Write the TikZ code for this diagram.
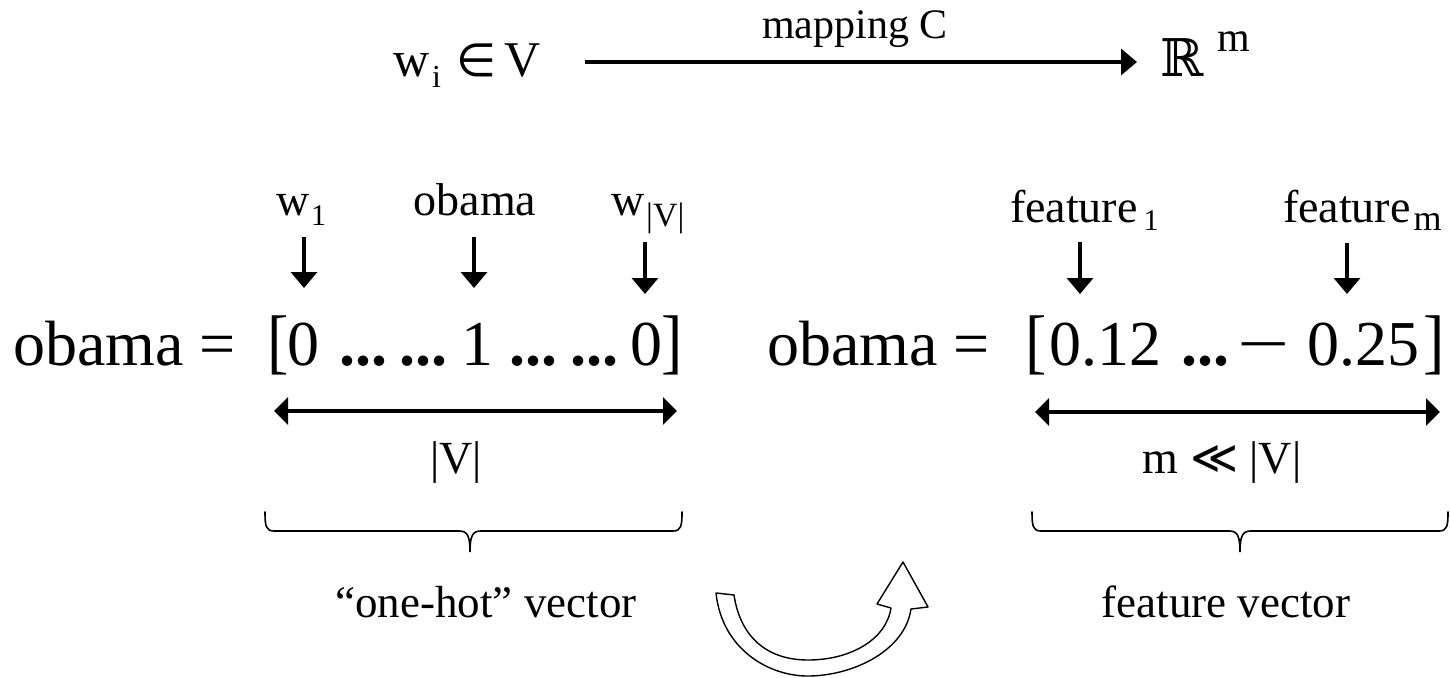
\documentclass[tikz,border=0pt]{standalone}
\usepackage{fontspec}
\setmainfont{Liberation Serif}
\newfontfamily\symfont{DejaVu Sans}
\newfontfamily\dsfont{DejaVu Serif}
\usetikzlibrary{arrows.meta}
\newcommand\fs[1]{\fontsize{#1}{#1}\selectfont}
\newcommand\mydots{\textbf{...}}
\begin{document}
\begin{tikzpicture}[x=1pt,y=-1pt,
  every node/.style={inner sep=0pt,outer sep=0pt,anchor=base},
  big/.style={font={\fs{64}}},
  lab/.style={font={\fs{46}}},
  captext/.style={font={\fs{45}}},
  arr/.style={line width=3.4pt,-{Triangle[length=16pt,width=26pt]}},
  darr/.style={line width=3.3pt,{Triangle[length=14pt,width=27pt]}-{Triangle[length=14pt,width=27pt]}},
  bracepath/.style={line width=1.6pt,line cap=round},
  blockarrow/.style={line width=1.4pt,fill=white,line join=round}]
\useasboundingbox (0,0) rectangle (1450,677);

% ---- top row ----
\node[font={\fs{50}},anchor=base west] (wi) at (393,77)
  {w\hspace{3pt}\raisebox{-11pt}{\fs{32}i}\hspace{15pt}{\symfont\fs{46}∈}\hspace{8pt}V};
\node[font={\fs{42}}] (map) at (855,38) {mapping C};
\node[anchor=base west] (Rm) at (1160,77)
  {{\dsfont\fs{52}ℝ}\hspace{14pt}\raisebox{25pt}{\fs{42}m}};
\coordinate (ta1) at (585,62);
\coordinate (ta2) at (1137,62);
\draw[arr] (ta1) -- (ta2);

% ---- labels above left vector ----
\node[lab,anchor=base west] (w1) at (276,215) {w\hspace{2pt}\raisebox{-10pt}{\fs{30}1}};
\node[lab] (ob) at (475,215) {obama};
\node[lab,anchor=base west] (wV) at (611,215) {w\hspace{2pt}\raisebox{-11pt}{\fs{34}|V|}};

% ---- labels above right vector ----
\node[lab,anchor=base west] (f1) at (1010,222) {feature\hspace{6pt}\raisebox{-8pt}{\fs{30}1}};
\node[lab,anchor=base west] (fm) at (1283,222) {feature\hspace{3pt}\raisebox{-8pt}{\fs{36}m}};

% ---- down arrows ----
\coordinate (a1s) at (304,237); \coordinate (a1e) at (304,288);
\coordinate (a2s) at (474,237); \coordinate (a2e) at (474,288);
\coordinate (a3s) at (645,242); \coordinate (a3e) at (645,294);
\coordinate (a4s) at (1080,242); \coordinate (a4e) at (1080,294);
\coordinate (a5s) at (1347,243); \coordinate (a5e) at (1347,294);
\draw[arr] (a1s) -- (a1e);
\draw[arr] (a2s) -- (a2e);
\draw[arr] (a3s) -- (a3e);
\draw[arr] (a4s) -- (a4e);
\draw[arr] (a5s) -- (a5e);

% ---- left vector ----
\node[big,anchor=base west] (lo) at (13,365) {obama =};
\node[big] (l1) at (278,365) {\scalebox{1}[1.12]{[}};
\node[big] (l2) at (303,365) {0};
\node[big] (l3) at (363,365) {\mydots};
\node[big] (l4) at (423,365) {\mydots};
\node[big] (l5) at (477,365) {1};
\node[big] (l6) at (533,365) {\mydots};
\node[big] (l7) at (594,365) {\mydots};
\node[big] (l8) at (646,365) {0};
\node[big] (l9) at (672,365) {\scalebox{1}[1.12]{]}};

% ---- right vector ----
\node[big,anchor=base west] (ro) at (767,365) {obama =};
\node[big] (r1) at (1036,365) {\scalebox{1}[1.12]{[}};
\node[big] (r2) at (1105,365) {0.12};
\node[big] (r3) at (1205,365) {\mydots};
\node[big] (r4) at (1264,365) {\scalebox{1.45}[1]{−}};
\node[big] (r5) at (1363,365) {0.25};
\node[big] (r6) at (1434,365) {\scalebox{1}[1.12]{]}};

% ---- double arrows and sizes ----
\coordinate (d1a) at (274,411); \coordinate (d1b) at (677,411);
\coordinate (d2a) at (1035,412); \coordinate (d2b) at (1440,412);
\draw[darr] (d1a) -- (d1b);
\draw[darr] (d2a) -- (d2b);
\node[lab] (sV) at (456,473) {|V|};
\node[lab] (sm) at (1222,473) {m {\symfont≪} |V|};

% ---- braces ----
\draw[bracepath] (265,512) .. controls (265,526) and (266,531) .. (274,531) -- (459,531)
  .. controls (467,531) and (470,535) .. (470,552)
  .. controls (470,535) and (473,531) .. (481,531) -- (673,531)
  .. controls (681,531) and (682,526) .. (682,512);
\draw[bracepath] (1032,512) .. controls (1032,526) and (1033,531) .. (1041,531) -- (1229,531)
  .. controls (1237,531) and (1240,535) .. (1240,552)
  .. controls (1240,535) and (1243,531) .. (1251,531) -- (1439,531)
  .. controls (1447,531) and (1448,526) .. (1448,512);
\node[captext] (oh) at (486,617) {“one-hot” vector};
\node[captext] (fv) at (1226,617) {feature vector};

% ---- curved block arrow ----
\draw[blockarrow] (716,593) .. controls (722,650) and (770,677) .. (810,676)
  .. controls (855,675) and (905,650) .. (911,609)
  -- (928,607) -- (903,562) -- (877,604) -- (891,608)
  .. controls (886,640) and (850,660) .. (808,660)
  .. controls (765,660) and (740,635) .. (734,595) -- cycle;
\end{tikzpicture}
\end{document}
